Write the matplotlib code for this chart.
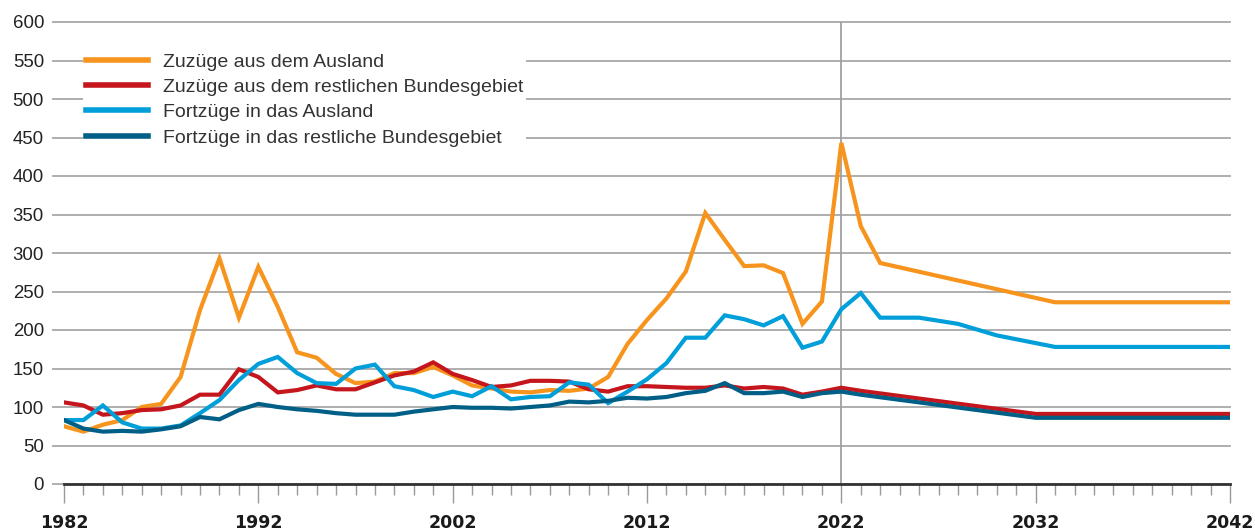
import matplotlib
matplotlib.use("Agg")
import matplotlib.pyplot as plt
from matplotlib.ticker import MultipleLocator

# ---- data ----
labels = ["Zuzüge aus dem Ausland",
          "Zuzüge aus dem restlichen Bundesgebiet",
          "Fortzüge in das Ausland",
          "Fortzüge in das restliche Bundesgebiet"]

orange_years = list(range(1982, 2025)) + [2033, 2042]
orange_vals = [75, 68, 77, 83, 100, 104, 139, 226, 293, 216,
               282, 230, 171, 164, 143, 131, 133, 144, 144, 152,
               141, 128, 124, 120, 119, 122, 121, 124, 139, 182,
               213, 241, 276, 352, 317, 283, 284, 274, 208, 237,
               443, 335, 287, 236, 236]

red_years = list(range(1982, 2024)) + [2032, 2042]
red_vals = [106, 102, 90, 92, 96, 97, 102, 116, 116, 149,
            139, 119, 122, 128, 123, 123, 132, 141, 146, 158,
            143, 135, 126, 128, 134, 134, 133, 123, 120, 127,
            127, 126, 125, 125, 128, 124, 126, 124, 116, 120,
            125, 121, 91, 91]

blue_years = list(range(1982, 2025)) + [2026, 2028, 2030, 2033, 2042]
blue_vals = [83, 83, 102, 80, 72, 72, 76, 92, 109, 135,
             156, 165, 144, 131, 130, 150, 155, 127, 122, 113,
             120, 114, 127, 110, 113, 114, 132, 129, 105, 120,
             136, 157, 190, 190, 219, 214, 206, 218, 177, 185,
             227, 248, 216, 216, 208, 193, 178, 178]

dark_years = list(range(1982, 2024)) + [2032, 2042]
dark_vals = [83, 72, 68, 69, 68, 71, 75, 87, 84, 96,
             104, 100, 97, 95, 92, 90, 90, 90, 94, 97,
             100, 99, 99, 98, 100, 102, 107, 106, 108, 112,
             111, 113, 118, 121, 131, 118, 118, 120, 113, 118,
             120, 116, 86, 86]

colors = ["#F7941D", "#C4161C", "#009FDA", "#005F87"]
x_ticks = [1982, 1992, 2002, 2012, 2022, 2032, 2042]
y_ticks = list(range(0, 601, 50))

# ---- figure ----
fig = plt.figure(figsize=(12.55, 5.32), dpi=100)
ax = fig.add_axes([64/1255, 48/532, 1166/1255, 462/532])
ax.set_xlim(1982, 2042)
ax.set_ylim(0, 600)

# gridlines (extending slightly left of the axis)
ext = 11/1166
for y in y_ticks:
    ax.axhline(y, xmin=-ext, xmax=1, color="#A8A8A8", lw=1.3, clip_on=False, zorder=1)
ax.axhline(0, xmin=0, xmax=1, color="#333333", lw=2.0, clip_on=False, zorder=5)
ax.axvline(2022, color="#A0A0A0", lw=1.3, zorder=1)

series = [(orange_years, orange_vals), (red_years, red_vals),
          (blue_years, blue_vals), (dark_years, dark_vals)]
for (xs, ys), c, lab in zip(series, colors, labels):
    ax.plot(xs, ys, color=c, lw=3.0, label=lab, solid_joinstyle="miter", zorder=3)

for s in ax.spines.values():
    s.set_visible(False)

ax.set_yticks(y_ticks)
ax.tick_params(axis="y", length=0, pad=20/100*72, labelsize=13.4, labelcolor="#222222")
for t in ax.get_yticklabels():
    t.set_fontfamily("Liberation Sans")

ax.set_xticks(x_ticks)
ax.xaxis.set_minor_locator(MultipleLocator(1))
ax.tick_params(axis="x", which="major", length=19/100*72, width=1.0, color="#999999",
               pad=8, labelsize=12.5, labelcolor="#1a1a1a")
ax.tick_params(axis="x", which="minor", length=11/100*72, width=1.0, color="#999999")
for t in ax.get_xticklabels():
    t.set_fontfamily("DejaVu Sans")
    t.set_fontweight("bold")

leg = ax.legend(loc="upper left", bbox_to_anchor=(83/1255, 1 - 50/532),
                bbox_transform=fig.transFigure, frameon=True, framealpha=1,
                edgecolor="none", facecolor="white", fancybox=False,
                handlelength=3.19, handletextpad=0.77, labelspacing=0.40,
                borderpad=0.15, borderaxespad=0,
                prop={"family": "Liberation Sans", "size": 14})
for line in leg.get_lines():
    line.set_linewidth(4)
for t in leg.get_texts():
    t.set_color("#333333")
leg.set_zorder(4)

fig.savefig("out.png", dpi=100)
